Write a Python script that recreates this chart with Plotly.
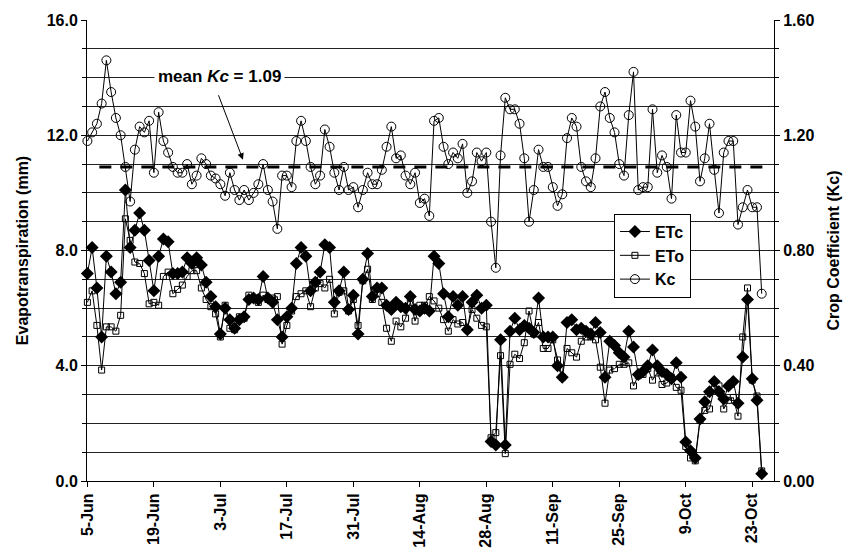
import pandas as pd
import plotly.graph_objects as go

# Daily series from 5 June to 25 October
start_date = "2000-06-05"

etc = [7.2, 8.1, 6.7, 5.0, 7.8, 7.25, 6.5, 6.9, 10.1, 8.1,
       8.7, 9.3, 8.7, 7.65, 6.6, 7.8, 8.4, 8.3, 7.2, 7.2,
       7.25, 7.75, 7.55, 7.75, 7.5, 6.9, 6.4, 6.05, 5.1, 6.0,
       5.6, 5.3, 5.6, 5.7, 6.3, 6.35, 6.3, 7.1, 6.35, 6.2,
       5.6, 5.0, 5.7, 6.0, 7.55, 8.1, 7.8, 6.6, 6.9, 7.25,
       8.2, 8.1, 6.2, 6.6, 7.25, 5.95, 6.45, 5.1, 7.0, 7.9,
       6.4, 6.7, 6.7, 6.1, 5.95, 6.2, 6.05, 6.0, 6.4, 5.95,
       5.9, 6.0, 5.9, 7.8, 7.55, 6.5, 5.7, 6.4, 6.1, 6.4,
       5.25, 6.2, 6.45, 6.0, 6.1, 1.37, 1.25, 4.9, 1.25, 5.2,
       5.65, 5.25, 5.4, 5.3, 5.15, 6.35, 5.0, 5.0, 5.0, 4.0,
       3.6, 5.5, 5.6, 5.25, 5.3, 5.2, 5.1, 5.5, 5.15, 3.6,
       4.85, 4.7, 4.45, 4.3, 5.2, 4.65, 3.7, 3.8, 4.0, 4.55,
       4.0, 3.8, 3.7, 3.55, 4.1, 3.6, 1.35, 1.05, 0.8, 2.15,
       2.75, 3.1, 3.45, 3.1, 2.85, 3.3, 3.45, 2.7, 4.3, 6.3,
       3.55, 2.8, 0.25]

eto = [6.2, 6.6, 5.4, 3.85, 5.35, 5.35, 5.2, 5.75, 9.1, 8.35,
       7.6, 7.55, 7.2, 6.15, 6.2, 6.1, 7.1, 7.25, 6.5, 6.65,
       6.8, 7.1, 7.3, 7.3, 6.7, 6.3, 6.05, 5.8, 5.0, 6.1,
       5.3, 5.25, 5.7, 5.65, 6.45, 6.35, 6.2, 6.45, 6.3, 6.35,
       6.4, 4.75, 5.4, 5.9, 6.4, 6.5, 6.6, 6.05, 6.7, 6.85,
       6.7, 7.0, 5.8, 6.55, 6.6, 5.9, 6.3, 5.4, 6.95, 7.35,
       6.3, 6.5, 6.2, 5.3, 4.85, 5.55, 5.35, 5.65, 6.2, 5.55,
       6.1, 6.1, 6.4, 6.25, 6.0, 5.6, 5.2, 5.6, 5.45, 5.5,
       5.25, 5.95, 5.65, 5.4, 5.35, 1.5, 1.68, 4.35, 0.95, 4.05,
       4.4, 4.25, 4.8, 5.9, 5.1, 5.5, 4.6, 4.6, 4.9, 4.2,
       3.6, 4.6, 4.45, 4.3, 4.85, 5.0, 5.0, 4.9, 3.95, 2.7,
       3.85, 3.9, 4.05, 4.05, 4.1, 3.3, 3.65, 3.7, 3.9, 3.5,
       3.75, 3.35, 3.4, 3.6, 3.25, 3.15, 1.2, 0.8, 0.7, 2.1,
       2.45, 2.5, 3.2, 3.3, 2.5, 2.8, 2.9, 2.25, 5.0, 6.7,
       3.5, 2.95, 0.35]

kc = [1.18, 1.21, 1.24, 1.31, 1.46, 1.35, 1.26, 1.20, 1.09, 0.97,
      1.15, 1.23, 1.21, 1.25, 1.07, 1.28, 1.18, 1.14, 1.09, 1.07,
      1.07, 1.10, 1.03, 1.06, 1.12, 1.10, 1.06, 1.05, 1.03, 0.99,
      1.07, 1.01, 0.975, 1.01, 0.975, 1.0, 1.03, 1.10, 1.01, 0.97,
      0.875, 1.06, 1.06, 1.02, 1.18, 1.25, 1.18, 1.09, 1.03, 1.06,
      1.22, 1.16, 1.07, 1.01, 1.09, 1.01, 1.02, 0.95, 1.01, 1.07,
      1.03, 1.03, 1.08, 1.16, 1.23, 1.12, 1.13, 1.06, 1.03, 1.07,
      0.965, 0.98, 0.92, 1.25, 1.26, 1.16, 1.10, 1.14, 1.12, 1.17,
      1.00, 1.04, 1.14, 1.11, 1.14, 0.90, 0.74, 1.13, 1.33, 1.29,
      1.29, 1.24, 1.12, 0.90, 1.01, 1.15, 1.09, 1.09, 1.02, 0.955,
      0.995, 1.19, 1.26, 1.23, 1.09, 1.04, 1.02, 1.12, 1.30, 1.35,
      1.26, 1.21, 1.10, 1.06, 1.27, 1.42, 1.01, 1.02, 1.02, 1.29,
      1.07, 1.13, 1.09, 0.98, 1.27, 1.14, 1.14, 1.32, 1.23, 1.04,
      1.12, 1.24, 1.08, 0.93, 1.14, 1.18, 1.18, 0.89, 0.95, 1.01,
      0.95, 0.95, 0.65]

mean_kc = 1.09

dates = pd.date_range(start_date, periods=len(etc), freq="D")

FONT = "Liberation Sans, Arial, sans-serif"
INK = "black"
GRID = "#222222"


def bold(size):
    return dict(family=FONT, size=size, color=INK, weight="bold")


fig = go.Figure()

fig.add_trace(go.Scatter(
    x=dates, y=etc, name="ETc", mode="lines+markers",
    line=dict(color=INK, width=1),
    marker=dict(symbol="diamond", size=10, color=INK),
    cliponaxis=False,
))
fig.add_trace(go.Scatter(
    x=dates, y=eto, name="ETo", mode="lines+markers",
    line=dict(color=INK, width=1),
    marker=dict(symbol="square-open", size=6, color=INK, line=dict(width=1)),
    cliponaxis=False,
))
fig.add_trace(go.Scatter(
    x=dates, y=kc, name="Kc", mode="lines+markers", yaxis="y2",
    line=dict(color=INK, width=1),
    marker=dict(symbol="circle-open", size=9, color=INK, line=dict(width=1)),
    cliponaxis=False,
))

# Mean crop coefficient reference line
fig.add_shape(
    type="line", xref="paper", yref="y2",
    x0=0.018, x1=0.995, y0=mean_kc, y1=mean_kc,
    line=dict(color=INK, width=3, dash="12px,9px"),
)

fig.add_annotation(
    xref="paper", yref="y", x=0.193, y=14.05,
    xanchor="center", yanchor="middle",
    text=f"mean <i>Kc</i> = {mean_kc:.2f}",
    showarrow=False, bgcolor="white",
    font=bold(17), borderpad=3,
)
fig.add_annotation(
    xref="paper", yref="y2", x=0.227, y=mean_kc + 0.025,
    text="", showarrow=True, arrowhead=2, arrowsize=1.3, arrowwidth=1,
    arrowcolor=INK, ax=-25, ay=-66,
)

fig.update_layout(
    width=858, height=560,
    margin=dict(l=87, r=84, t=17, b=77),
    paper_bgcolor="white", plot_bgcolor="white",
    font=dict(family=FONT, size=14, color=INK),
    showlegend=True,
    legend=dict(
        x=0.767, y=0.58, xanchor="left", yanchor="top",
        bgcolor="white", bordercolor=INK, borderwidth=1,
        font=bold(16), tracegroupgap=0, itemwidth=30,
    ),
    xaxis=dict(
        type="date",
        range=["2000-06-04 22:00", "2000-10-27 14:00"],
        tick0="2000-06-05", dtick=14 * 86400000,
        tickformat="%-d-%b", tickangle=-90,
        ticks="outside", ticklen=5, tickcolor=INK,
        showline=True, linecolor=INK, linewidth=1,
        showgrid=False, zeroline=False,
        tickfont=bold(16),
    ),
    yaxis=dict(
        range=[0, 16], dtick=4, tick0=0, tickformat=".1f",
        ticks="outside", ticklen=5, tickcolor=INK,
        showline=True, linecolor=INK, linewidth=1,
        showgrid=True, gridcolor=GRID, gridwidth=1,
        zeroline=False,
        minor=dict(dtick=1, showgrid=True, gridcolor=GRID, gridwidth=1,
                   ticks="outside", ticklen=4, tickcolor=INK),
        tickfont=bold(16),
        title=dict(text="Evapotranspiration (mm)", font=bold(16), standoff=14),
    ),
    yaxis2=dict(
        overlaying="y", side="right",
        range=[0, 1.6], dtick=0.4, tick0=0, tickformat=".2f",
        ticks="outside", ticklen=5, tickcolor=INK,
        showline=True, linecolor=INK, linewidth=1,
        showgrid=False, zeroline=False,
        minor=dict(dtick=0.1, ticks="outside", ticklen=4, tickcolor=INK),
        tickfont=bold(16),
        title=dict(text="Crop Coefficient (Kc)", font=bold(16), standoff=14),
    ),
)

fig.write_html("out.html")
